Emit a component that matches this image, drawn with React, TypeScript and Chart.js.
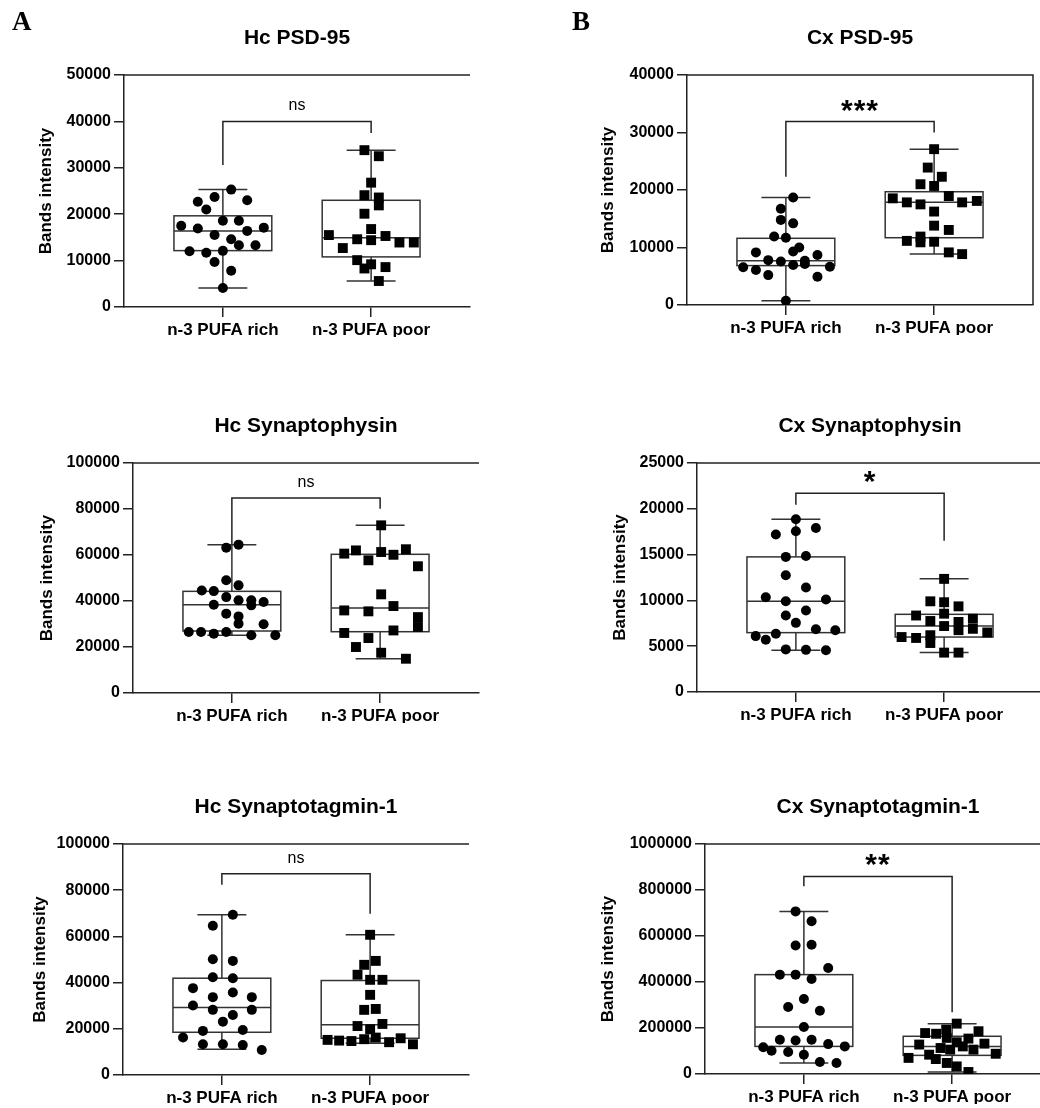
import React, { useEffect, useRef } from "react";
import { Chart, registerables } from "chart.js";

Chart.register(...registerables);

const FONT = "Arial, 'Liberation Sans', Helvetica, sans-serif";
const SERIF = "'Times New Roman', 'Liberation Serif', serif";

const groupLabels = ["n-3 PUFA rich", "n-3 PUFA poor"];
const yAxisTitle = "Bands intensity";

// ---------- Hc PSD-95 ----------
const hcPsdRich = [25300, 23700, 22700, 23000, 21000, 17500, 16900, 18600, 18600, 17100, 16400, 15500, 14600, 13300, 13300, 12000, 11700, 12100, 9700, 7800, 4100];
const hcPsdRichJitter = [0.056, -0.056, -0.169, 0.164, -0.112, -0.281, -0.169, 0, 0.108, 0.276, 0.164, -0.056, 0.056, 0.108, 0.22, -0.225, -0.112, 0, -0.056, 0.056, 0];
const hcPsdPoor = [33800, 32500, 26800, 24100, 23600, 21900, 20100, 16800, 15500, 14600, 14400, 15300, 13900, 13900, 12700, 10100, 8300, 9200, 8600, 5600];
const hcPsdPoorJitter = [-0.045, 0.052, 0, -0.045, 0.052, 0.052, -0.045, 0, -0.285, -0.094, 0, 0.097, 0.191, 0.288, -0.191, -0.094, -0.045, 0, 0.097, 0.052];
const hcPsdRichBox = [4100, 12150, 16400, 19650, 25300]; // min, q1, median, q3, max
const hcPsdPoorBox = [5600, 10800, 14950, 23000, 33800];
const hcPsdBracket = [40000, 30600, 37500]; // top, left end, right end
const hcPsdTicks = [0, 50000, 10000];

// ---------- Cx PSD-95 ----------
const cxPsdRich = [18700, 16750, 14800, 14200, 11900, 11700, 10000, 9300, 9150, 8700, 7800, 7550, 7700, 6550, 6100, 6950, 7150, 6650, 5200, 4900, 750];
const cxPsdRichJitter = [0.049, -0.034, -0.034, 0.049, -0.079, 0, 0.09, 0.049, -0.202, 0.213, -0.119, -0.034, 0.128, -0.288, -0.202, 0.049, 0.128, 0.297, -0.119, 0.213, 0];
const cxPsdPoor = [27100, 23900, 22300, 21000, 20700, 18950, 18550, 17850, 17500, 17850, 18100, 16250, 13800, 13050, 11150, 11900, 10900, 11000, 9150, 8850];
const cxPsdPoorJitter = [0, -0.043, 0.052, -0.092, 0, 0.099, -0.279, -0.184, -0.092, 0.189, 0.288, 0, 0, 0.099, -0.184, -0.092, -0.092, 0, 0.099, 0.189];
const cxPsdRichBox = [750, 6850, 7700, 11600, 18700];
const cxPsdPoorBox = [8850, 11700, 17850, 19700, 27100];
const cxPsdBracket = [31900, 22300, 30000];
const cxPsdTicks = [0, 40000, 10000];

// ---------- Hc Synaptophysin ----------
const hcSypRich = [64500, 63200, 49000, 46800, 44600, 44300, 41700, 40300, 40300, 39600, 38400, 38100, 34500, 33300, 30100, 29900, 26500, 26500, 25800, 26500, 25100, 25100];
const hcSypRichJitter = [0.045, -0.038, -0.038, 0.045, -0.203, -0.122, -0.038, 0.045, 0.131, 0.214, -0.122, 0.131, -0.038, 0.045, 0.045, 0.214, -0.291, -0.208, -0.122, -0.038, 0.131, 0.293];
const hcSypPoor = [72900, 60600, 62000, 57700, 61300, 60100, 62500, 55100, 42900, 35900, 35500, 37800, 33000, 28700, 26100, 27200, 23900, 20000, 17500, 14900];
const hcSypPoorJitter = [0.007, -0.242, -0.163, -0.079, 0.007, 0.09, 0.174, 0.255, 0.007, -0.242, -0.079, 0.09, 0.255, 0.255, -0.242, 0.09, -0.079, -0.163, 0.007, 0.174];
const hcSypRichBox = [25100, 26950, 38400, 44200, 64500];
const hcSypPoorBox = [14900, 26650, 36950, 60300, 72900];
const hcSypBracket = [84800, 64500, 80100];
const hcSypTicks = [0, 100000, 20000];

// ---------- Cx Synaptophysin ----------
const cxSypRich = [18850, 17200, 17550, 17900, 14750, 14850, 12750, 11400, 10350, 9900, 10100, 8900, 8350, 7550, 6100, 6350, 5700, 6850, 6750, 4650, 4600, 4550];
const cxSypRichJitter = [0, -0.135, 0, 0.135, -0.068, 0.068, -0.068, 0.068, -0.203, -0.068, 0.203, 0.068, -0.068, 0, -0.271, -0.135, -0.203, 0.135, 0.266, -0.068, 0.068, 0.203];
const cxSypPoor = [12350, 9900, 9800, 8550, 9350, 8350, 7750, 7200, 7650, 6750, 8000, 6900, 6000, 5900, 6200, 5350, 6500, 4300, 4300];
const cxSypPoorJitter = [0, -0.093, 0, 0, 0.097, -0.189, -0.093, 0, 0.097, 0.097, 0.194, 0.194, -0.287, -0.189, -0.093, -0.093, 0.291, 0, 0.097];
const cxSypRichBox = [4550, 6480, 9900, 14750, 18850];
const cxSypPoorBox = [4300, 6000, 7200, 8480, 12350];
const cxSypBracket = [21700, 20450, 16500];
const cxSypTicks = [0, 25000, 5000];

// ---------- Hc Synaptotagmin-1 ----------
const hcSytRich = [69400, 64600, 50100, 49400, 42300, 41900, 37600, 35700, 33700, 33700, 30100, 28200, 28200, 26000, 23100, 19100, 19500, 16200, 13300, 13300, 13000, 10800];
const hcSytRichJitter = [0.074, -0.061, -0.061, 0.074, -0.061, 0.074, -0.195, 0.074, -0.061, 0.202, -0.195, -0.061, 0.202, 0.074, 0.007, -0.128, 0.141, -0.262, -0.128, 0.007, 0.141, 0.269];
const hcSytPoor = [60700, 49400, 47700, 43400, 41200, 41200, 34700, 28200, 28600, 21200, 22100, 19800, 15200, 14900, 14700, 15500, 16200, 14200, 15900, 13300];
const hcSytPoorJitter = [0, 0.038, -0.04, -0.085, 0, 0.083, 0, -0.04, 0.038, -0.085, 0.083, 0, -0.287, -0.209, -0.126, -0.04, 0.038, 0.128, 0.206, 0.289];
const hcSytRichBox = [11100, 18500, 29200, 41900, 69400];
const hcSytPoorBox = [13700, 15900, 21700, 40900, 60700];
const hcSytBracket = [87100, 82400, 69800];
const hcSytTicks = [0, 100000, 20000];

// ---------- Cx Synaptotagmin-1 ----------
const cxSytRich = [707000, 664000, 559000, 562000, 461000, 432000, 432000, 413000, 326000, 291000, 275000, 204000, 149000, 146000, 149000, 130000, 120000, 116000, 101000, 96000, 84000, 52000, 48000];
const cxSytRichJitter = [-0.056, 0.052, -0.056, 0.052, 0.164, -0.162, -0.056, 0.052, 0, -0.106, 0.108, 0, -0.162, -0.056, 0.052, 0.164, 0.276, -0.274, -0.218, -0.106, 0, 0.108, 0.22];
const cxSytPoor = [219000, 178000, 175000, 193000, 157000, 186000, 154000, 128000, 138000, 120000, 113000, 106000, 106000, 132000, 70000, 84000, 65000, 88000, 48000, 33000, 8700];
const cxSytPoorJitter = [0.031, -0.182, -0.108, -0.04, -0.036, 0.178, 0.11, -0.222, 0.031, 0.072, -0.078, -0.013, 0.144, 0.218, -0.294, -0.155, -0.11, 0.294, -0.036, 0.031, 0.11];
const cxSytRichBox = [48000, 120000, 204000, 432000, 707000];
const cxSytPoorBox = [8700, 81000, 120000, 164000, 219000];
const cxSytBracket = [859000, 816000, 268000];
const cxSytTicks = [0, 1000000, 200000];

type Geo = {
  cl: number; ct: number; cw: number; ch: number;
  left: number; right: number; top: number; bottom: number;
  yTitleX: number; frameRight: boolean; letter?: string; letterX?: number;
};

type Spec = {
  title: string; sig: string;
  rich: number[]; richJitter: number[]; poor: number[]; poorJitter: number[];
  richBox: number[]; poorBox: number[]; bracket: number[]; ticks: number[];
  geo: Geo;
};

const specs: Spec[] = [
  {
    title: "Hc PSD-95", sig: "ns",
    rich: hcPsdRich, richJitter: hcPsdRichJitter, poor: hcPsdPoor, poorJitter: hcPsdPoorJitter,
    richBox: hcPsdRichBox, poorBox: hcPsdPoorBox, bracket: hcPsdBracket, ticks: hcPsdTicks,
    geo: { cl: 0, ct: 0, cw: 520, ch: 380, left: 124, right: 470, top: 75, bottom: 307, yTitleX: 46, frameRight: false, letter: "A", letterX: 12 },
  },
  {
    title: "Cx PSD-95", sig: "***",
    rich: cxPsdRich, richJitter: cxPsdRichJitter, poor: cxPsdPoor, poorJitter: cxPsdPoorJitter,
    richBox: cxPsdRichBox, poorBox: cxPsdPoorBox, bracket: cxPsdBracket, ticks: cxPsdTicks,
    geo: { cl: 520, ct: 0, cw: 540, ch: 380, left: 687, right: 1033, top: 75, bottom: 305, yTitleX: 608, frameRight: true, letter: "B", letterX: 572 },
  },
  {
    title: "Hc Synaptophysin", sig: "ns",
    rich: hcSypRich, richJitter: hcSypRichJitter, poor: hcSypPoor, poorJitter: hcSypPoorJitter,
    richBox: hcSypRichBox, poorBox: hcSypPoorBox, bracket: hcSypBracket, ticks: hcSypTicks,
    geo: { cl: 0, ct: 380, cw: 520, ch: 380, left: 133, right: 479, top: 463, bottom: 693, yTitleX: 47, frameRight: false },
  },
  {
    title: "Cx Synaptophysin", sig: "*",
    rich: cxSypRich, richJitter: cxSypRichJitter, poor: cxSypPoor, poorJitter: cxSypPoorJitter,
    richBox: cxSypRichBox, poorBox: cxSypPoorBox, bracket: cxSypBracket, ticks: cxSypTicks,
    geo: { cl: 520, ct: 380, cw: 540, ch: 380, left: 697, right: 1043, top: 463, bottom: 692, yTitleX: 620, frameRight: true },
  },
  {
    title: "Hc Synaptotagmin-1", sig: "ns",
    rich: hcSytRich, richJitter: hcSytRichJitter, poor: hcSytPoor, poorJitter: hcSytPoorJitter,
    richBox: hcSytRichBox, poorBox: hcSytPoorBox, bracket: hcSytBracket, ticks: hcSytTicks,
    geo: { cl: 0, ct: 760, cw: 520, ch: 380, left: 123, right: 469, top: 844, bottom: 1075, yTitleX: 40, frameRight: false },
  },
  {
    title: "Cx Synaptotagmin-1", sig: "**",
    rich: cxSytRich, richJitter: cxSytRichJitter, poor: cxSytPoor, poorJitter: cxSytPoorJitter,
    richBox: cxSytRichBox, poorBox: cxSytPoorBox, bracket: cxSytBracket, ticks: cxSytTicks,
    geo: { cl: 520, ct: 760, cw: 540, ch: 380, left: 705, right: 1051, top: 844, bottom: 1074, yTitleX: 608, frameRight: true },
  },
];

const LINE = "#222";
const BOX_HALF = 0.33;
const CAP_HALF = 0.165;

function makePlugin(spec: Spec) {
  return {
    id: "boxPanel",
    beforeDatasetsDraw(chart: any) {
      const { ctx, chartArea: a, scales } = chart;
      const x = scales.x, y = scales.y;
      ctx.save();
      ctx.strokeStyle = LINE;
      ctx.lineWidth = 1.5;
      ctx.beginPath();
      ctx.moveTo(a.left, a.top);
      ctx.lineTo(a.right, a.top);
      if (spec.geo.frameRight) ctx.lineTo(a.right, a.bottom);
      ctx.stroke();

      ctx.strokeStyle = "#333";
      ctx.lineWidth = 1.5;
      [spec.richBox, spec.poorBox].forEach((b, i) => {
        const c = i + 1;
        const xl = x.getPixelForValue(c - BOX_HALF);
        const xr = x.getPixelForValue(c + BOX_HALF);
        const xc = x.getPixelForValue(c);
        const cl = x.getPixelForValue(c - CAP_HALF);
        const cr = x.getPixelForValue(c + CAP_HALF);
        const [mn, q1, md, q3, mx] = b.map((v) => y.getPixelForValue(v));
        ctx.strokeRect(xl, q3, xr - xl, q1 - q3);
        ctx.beginPath();
        ctx.moveTo(xl, md); ctx.lineTo(xr, md);
        ctx.moveTo(xc, q3); ctx.lineTo(xc, mx);
        ctx.moveTo(xc, q1); ctx.lineTo(xc, mn);
        ctx.moveTo(cl, mx); ctx.lineTo(cr, mx);
        ctx.moveTo(cl, mn); ctx.lineTo(cr, mn);
        ctx.stroke();
      });
      ctx.restore();
    },
    afterDatasetsDraw(chart: any) {
      const { ctx, scales } = chart;
      const x = scales.x, y = scales.y;
      const [bt, bl, br] = spec.bracket;
      const x1 = x.getPixelForValue(1);
      const x2 = x.getPixelForValue(2);
      const ty = y.getPixelForValue(bt);
      ctx.save();
      ctx.strokeStyle = LINE;
      ctx.lineWidth = 1.5;
      ctx.beginPath();
      ctx.moveTo(x1, y.getPixelForValue(bl));
      ctx.lineTo(x1, ty);
      ctx.lineTo(x2, ty);
      ctx.lineTo(x2, y.getPixelForValue(br));
      ctx.stroke();
      ctx.fillStyle = "#000";
      ctx.textAlign = "center";
      ctx.textBaseline = "alphabetic";
      const mid = (x1 + x2) / 2;
      if (spec.sig === "ns") {
        ctx.font = `16px ${FONT}`;
        ctx.fillText(spec.sig, mid, ty - 11);
      } else {
        ctx.font = `bold 30px ${FONT}`;
        (ctx as any).letterSpacing = "1px";
        ctx.fillText(spec.sig, mid, ty - 2);
      }
      ctx.restore();
    },
    afterDraw(chart: any) {
      const { ctx, chartArea: a, scales } = chart;
      const x = scales.x;
      ctx.save();
      ctx.fillStyle = "#000";
      ctx.textAlign = "center";
      ctx.textBaseline = "middle";
      ctx.font = `bold 21px ${FONT}`;
      ctx.fillText(spec.title, x.getPixelForValue(1.5), a.top - 37);
      if (spec.geo.letter) {
        ctx.textAlign = "left";
        ctx.textBaseline = "alphabetic";
        ctx.font = `bold 27px ${SERIF}`;
        ctx.fillText(spec.geo.letter, (spec.geo.letterX || 0) - spec.geo.cl, 30 - spec.geo.ct);
      }
      ctx.restore();
    },
  };
}

function Panel({ spec }: { spec: Spec }) {
  const ref = useRef<HTMLCanvasElement>(null);
  const g = spec.geo;
  useEffect(() => {
    const XH = 30;
    const titleLH = 17 * 1.2;
    const padL = g.yTitleX - g.cl - titleLH / 2;
    const YW = g.left - g.cl - padL;
    const padR = g.cl + g.cw - g.right;
    const padT = g.top - g.ct;
    const padB = g.ct + g.ch - g.bottom - XH;
    const chart = new Chart(ref.current as HTMLCanvasElement, {
      type: "scatter",
      data: {
        datasets: [
          {
            label: groupLabels[0],
            data: spec.rich.map((v, i) => ({ x: 1 + spec.richJitter[i], y: v })),
            pointStyle: "circle",
            pointRadius: 5,
            pointBackgroundColor: "#000",
            pointBorderColor: "#000",
            pointBorderWidth: 0,
          },
          {
            label: groupLabels[1],
            data: spec.poor.map((v, i) => ({ x: 2 + spec.poorJitter[i], y: v })),
            pointStyle: "rect",
            pointRadius: 7,
            pointBackgroundColor: "#000",
            pointBorderColor: "#000",
            pointBorderWidth: 0,
          },
        ],
      },
      options: {
        animation: false,
        responsive: false,
        maintainAspectRatio: false,
        events: [],
        layout: { padding: { left: padL, right: padR, top: padT, bottom: padB } },
        plugins: { legend: { display: false }, tooltip: { enabled: false }, title: { display: false } },
        scales: {
          x: {
            type: "linear",
            min: 1 - 0.667,
            max: 2 + 0.667,
            afterBuildTicks: (s: any) => { s.ticks = [{ value: 1 }, { value: 2 }]; },
            afterFit: (s: any) => { s.height = XH; },
            ticks: {
              autoSkip: false, maxRotation: 0, minRotation: 0, padding: 3, color: "#000",
              font: { family: FONT, size: 17, weight: "bold" },
              callback: (v: any) => groupLabels[Math.round(Number(v)) - 1] ?? "",
            },
            grid: { drawOnChartArea: false, drawTicks: true, tickLength: 10, color: LINE, lineWidth: 1.5 },
            border: { display: true, color: LINE, width: 1.5 },
          },
          y: {
            type: "linear",
            min: spec.ticks[0],
            max: spec.ticks[1],
            afterFit: (s: any) => { s.width = YW; },
            ticks: {
              stepSize: spec.ticks[2], padding: 3, color: "#000",
              font: { family: FONT, size: 16, weight: "bold" },
              callback: (v: any) => String(v),
            },
            title: {
              display: true, text: yAxisTitle, color: "#000",
              font: { family: FONT, size: 17, weight: "bold" },
              padding: { top: 0, bottom: 0 },
            },
            grid: { drawOnChartArea: false, drawTicks: true, tickLength: 10, color: LINE, lineWidth: 1.5 },
            border: { display: true, color: LINE, width: 1.5 },
          },
        },
      },
      plugins: [makePlugin(spec)],
    } as any);
    return () => chart.destroy();
  }, [spec]);
  return (
    <canvas
      ref={ref}
      width={g.cw}
      height={g.ch}
      style={{ position: "absolute", left: g.cl, top: g.ct, width: g.cw, height: g.ch }}
    />
  );
}

export default function App() {
  return (
    <div
      style={{
        position: "absolute", left: 0, top: 0, width: 1040, height: 1108,
        overflow: "hidden", background: "#fff",
      }}
    >
      {specs.map((s) => (
        <Panel key={s.title} spec={s} />
      ))}
    </div>
  );
}
